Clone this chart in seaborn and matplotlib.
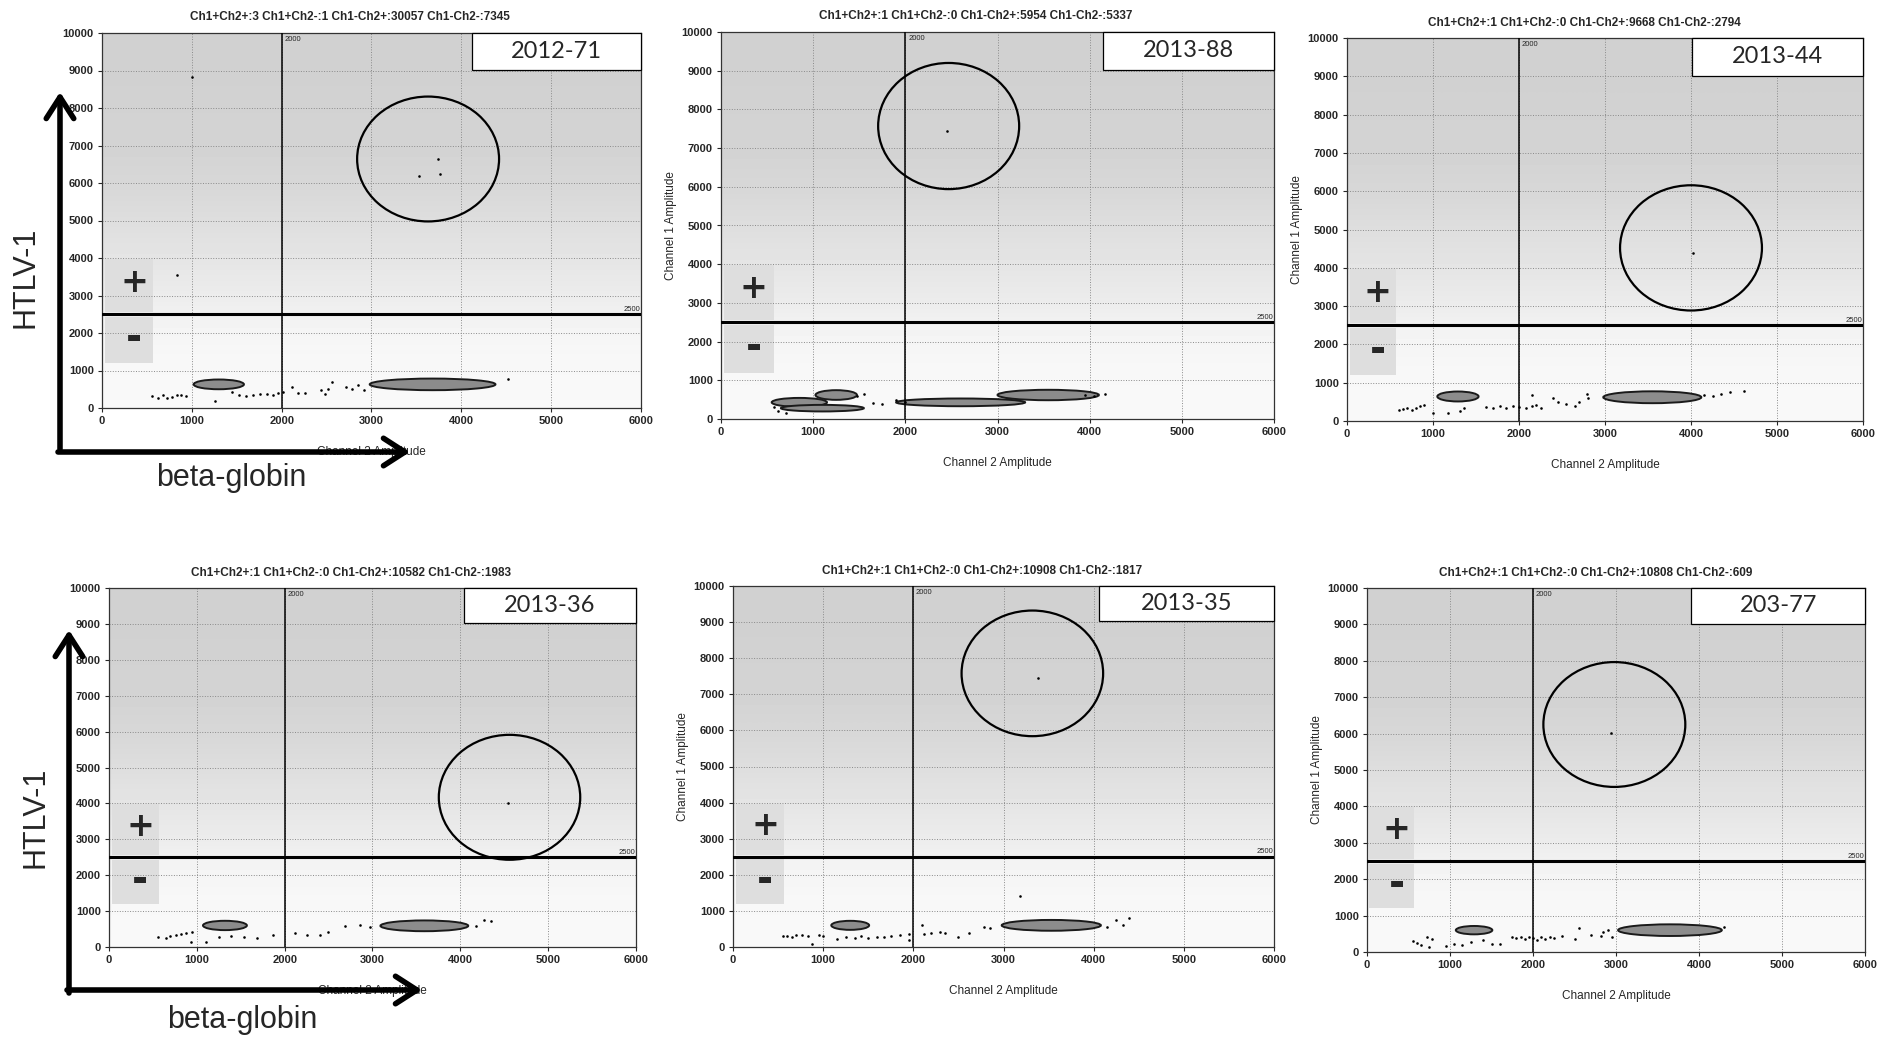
"""
ddPCR 2D amplitude plots, HTLV-1 (Ch1) vs beta-globin (Ch2), six samples
"""
import numpy as np
import pandas as pd
import seaborn as sns
import matplotlib.pyplot as plt
from matplotlib.patches import Ellipse, Rectangle, FancyArrowPatch

SAMPLES = ["2012-71", "2013-88", "2013-44", "2013-36", "2013-35", "203-77"]
# Ch1+Ch2+, Ch1+Ch2-, Ch1-Ch2+, Ch1-Ch2-
COUNTS = [(3, 1, 30057, 7345), (1, 0, 5954, 5337), (1, 0, 9668, 2794),
          (1, 0, 10582, 1983), (1, 0, 10908, 1817), (1, 0, 10808, 609)]

CH1_THRESHOLD = 2500
CH2_THRESHOLD = 2000

# circled positive droplets
CIRCLE_X = [3630, 2470, 4000, 4560, 3320, 2980]
CIRCLE_Y = [6640, 7570, 4520, 4170, 7580, 6250]
CIRCLE_W = [1580, 1530, 1650, 1610, 1570, 1710]
CIRCLE_H = [3330, 3260, 3270, 3480, 3480, 3430]
POS_X = [[3530, 3740, 3760], [2455], [4020], [4540], [3380], [2945]]
POS_Y = [[6200, 6640, 6240], [7450], [4380], [4020], [7460], [6020]]

# droplet clusters (centre, width, height)
CLUSTER_X = [[1300, 3680], [1250, 850, 1100, 2600, 3550], [1290, 3550],
             [1320, 3590], [1300, 3530], [1290, 3650]]
CLUSTER_Y = [[630, 630], [620, 430, 280, 430, 620], [640, 620],
             [600, 590], [600, 600], [600, 600]]
CLUSTER_W = [[560, 1400], [450, 600, 900, 1400, 1100], [480, 1140],
             [500, 1000], [420, 1100], [440, 1250]]
CLUSTER_H = [[260, 310], [250, 230, 170, 200, 270], [260, 310],
             [260, 300], [250, 300], [230, 320]]

# rain / scattered droplets
NEG_X = [
    [560, 620, 680, 720, 780, 830, 880, 940, 1260, 1450, 1520, 1600, 1680, 1760,
     1840, 1900, 1960, 2020, 2110, 2180, 2260, 2440, 2480, 2520, 2560, 2720,
     2780, 2850, 2920, 4520, 1000, 835],
    [580, 620, 700, 1480, 1550, 1650, 1750, 1900, 2000, 4170, 4050, 3950],
    [600, 650, 700, 750, 800, 850, 900, 1000, 1180, 1310, 1360, 1620, 1700, 1780,
     1850, 1930, 2000, 2080, 2150, 2200, 2250, 2150, 2400, 2450, 2550, 2650,
     2700, 2790, 2800, 4150, 4250, 4350, 4450, 4620],
    [560, 650, 700, 760, 820, 880, 950, 936, 1104, 1248, 1392, 1536, 1680, 1872,
     2112, 2256, 2400, 2496, 2688, 2856, 2976, 4176, 4272, 4344],
    [551, 600, 650, 700, 760, 830, 878, 950, 1000, 1150, 1250, 1350, 1420, 1500,
     1600, 1680, 1750, 1850, 1950, 1950, 2100, 2120, 2200, 2300, 2350, 2500,
     2620, 2780, 2850, 4150, 4250, 4320, 4390, 3180],
    [554, 600, 650, 720, 750, 780, 946, 1050, 1150, 1250, 1400, 1500, 1600, 1750,
     1800, 1850, 1900, 1950, 2000, 2050, 2100, 2150, 2200, 2250, 2350, 2500,
     2550, 2700, 2820, 2840, 2900, 2950, 4300],
]
NEG_Y = [
    [320, 260, 340, 280, 300, 360, 340, 330, 200, 420, 360, 330, 350, 370,
     380, 340, 400, 420, 560, 400, 390, 480, 380, 520, 700, 560, 500, 620,
     480, 780, 8840, 3550],
    [320, 200, 150, 600, 650, 420, 380, 500, 450, 650, 600, 620],
    [280, 310, 330, 300, 350, 380, 420, 200, 218, 270, 331, 370, 330, 380,
     350, 400, 360, 340, 380, 430, 340, 680, 590, 500, 450, 400, 500, 714,
     600, 680, 650, 700, 750, 790],
    [280, 260, 300, 330, 350, 380, 420, 139, 139, 269, 297, 269, 250, 343,
     389, 343, 343, 408, 593, 602, 556, 575, 760, 713],
    [296, 300, 280, 340, 330, 300, 92, 320, 300, 230, 280, 250, 300, 260,
     280, 270, 300, 320, 200, 350, 600, 360, 400, 420, 380, 280, 380, 560,
     520, 560, 740, 620, 800, 1405],
    [311, 250, 200, 400, 150, 350, 156, 220, 200, 280, 320, 230, 210, 400,
     380, 420, 360, 400, 380, 340, 400, 360, 420, 380, 440, 360, 660, 480,
     450, 560, 610, 400, 700],
]

# figure layout in pixels (left, top, right, bottom)
W, H = 1891, 1039
AXES_PX = [(102, 33, 641, 408), (721, 32, 1274, 419), (1347, 38, 1863, 421),
           (109, 588, 636, 947), (733, 586, 1274, 947), (1367, 588, 1865, 952)]
BOX_LEFT = [0.686, 0.69, 0.669, 0.674, 0.677, 0.651]
BG_SHADE = [0.975, 0.97, 0.955, 0.92, 0.895, 0.87, 0.845, 0.83, 0.825, 0.82, 0.82]

sns.set_theme(style="white")
plt.rcParams["font.family"] = ["Liberation Sans Narrow", "Liberation Sans", "DejaVu Sans"]

fig = plt.figure(figsize=(W / 100, H / 100), dpi=100)


def fx(x):
    return x / W


def fy(y):
    return 1 - y / H


def draw_panel(i):
    l, t, r, b = AXES_PX[i]
    ax = fig.add_axes([fx(l), fy(b), (r - l) / W, (b - t) / H])

    ax.imshow(np.array(BG_SHADE).reshape(-1, 1), cmap="gray", vmin=0, vmax=1,
              extent=(0, 6000, 0, 10000), origin="lower", aspect="auto",
              interpolation="bilinear", zorder=0)
    for y0, h0 in [(2560, 1410), (1200, 1230)]:
        ax.add_patch(Rectangle((30, y0), 540, h0, facecolor="#dedede",
                               edgecolor="none", zorder=0.2))

    for cx, cy, cw, ch in zip(CLUSTER_X[i], CLUSTER_Y[i], CLUSTER_W[i], CLUSTER_H[i]):
        ax.add_patch(Ellipse((cx, cy), cw, ch, facecolor="#8c8c8c",
                             edgecolor="#1a1a1a", lw=1.4, zorder=2))

    sns.scatterplot(x=NEG_X[i], y=NEG_Y[i], ax=ax, color="black", s=3.5,
                    linewidth=0, zorder=3)
    sns.scatterplot(x=POS_X[i], y=POS_Y[i], ax=ax, color="black", s=3.5,
                    linewidth=0, zorder=3)

    ax.axvline(CH2_THRESHOLD, color="black", lw=1.1, zorder=4)
    ax.axhline(CH1_THRESHOLD, color="black", lw=2.2, zorder=4)
    ax.text(CH2_THRESHOLD + 30, 9930, str(CH2_THRESHOLD), fontsize=5.5,
            va="top", ha="left", zorder=5)
    ax.text(5990, CH1_THRESHOLD + 40, str(CH1_THRESHOLD), fontsize=5.5,
            va="bottom", ha="right", zorder=5)

    ax.add_patch(Ellipse((CIRCLE_X[i], CIRCLE_Y[i]), CIRCLE_W[i], CIRCLE_H[i],
                         facecolor="none", edgecolor="black", lw=1.6, zorder=5))

    ax.text(356, 3360, "+", fontsize=24, fontweight="bold", ha="center",
            va="center", family="DejaVu Sans", zorder=5)
    ax.text(356, 1840, "-", fontsize=28, fontweight="bold", ha="center",
            va="center", family="DejaVu Sans", zorder=5)

    bl = BOX_LEFT[i]
    ax.add_patch(Rectangle((bl, 0.902), 1 - bl, 0.098, transform=ax.transAxes,
                           facecolor="white", edgecolor="black", lw=0.9,
                           zorder=6, clip_on=False))
    ax.text((bl + 1) / 2, 0.951, SAMPLES[i], transform=ax.transAxes,
            fontsize=17, family="Lato", ha="center", va="center", zorder=7)

    ax.set_xlim(0, 6000)
    ax.set_ylim(0, 10000)
    ax.set_xticks(range(0, 6001, 1000))
    ax.set_yticks(range(0, 10001, 1000))
    ax.grid(True, ls=":", color="#8a8a8a", lw=0.7)
    ax.tick_params(axis="both", labelsize=8, length=3, width=0.8, pad=3,
                   bottom=True, left=True)
    for lab in ax.get_xticklabels() + ax.get_yticklabels():
        lab.set_fontweight("bold")
    for sp in ax.spines.values():
        sp.set_color("#333333")
        sp.set_linewidth(0.9)

    a, bb, c, d = COUNTS[i]
    ax.set_title(f"Ch1+Ch2+:{a} Ch1+Ch2-:{bb} Ch1-Ch2+:{c} Ch1-Ch2-:{d}",
                 fontsize=8.5, fontweight="bold", x=0.46, pad=9)
    ax.set_xlabel("Channel 2 Amplitude", fontsize=8.5, labelpad=14)
    if i % 3 != 0:
        ax.set_ylabel("Channel 1 Amplitude", fontsize=8.5, labelpad=3,
                      family="Liberation Sans")
    return ax


for i in range(len(SAMPLES)):
    draw_panel(i)

# hand-drawn axis arrows and labels on the left column
arrow_style = "->,head_length=0.7,head_width=0.45"
for (vx, vy0, vy1), (hx0, hx1, hy), (tx, ty), (gx, gy) in [
    ((60, 449, 92), (58, 410, 452), (26, 277), (231, 478)),
    ((69, 993, 630), (67, 422, 990), (35, 817), (242, 1020)),
]:
    fig.add_artist(FancyArrowPatch((fx(vx), fy(vy0)), (fx(vx), fy(vy1)),
                                   transform=fig.transFigure, arrowstyle=arrow_style,
                                   mutation_scale=22, lw=4, color="black",
                                   shrinkA=0, shrinkB=0))
    fig.add_artist(FancyArrowPatch((fx(hx0), fy(hy)), (fx(hx1), fy(hy)),
                                   transform=fig.transFigure, arrowstyle=arrow_style,
                                   mutation_scale=22, lw=4, color="black",
                                   shrinkA=0, shrinkB=0))
    fig.text(fx(tx), fy(ty), "HTLV-1", rotation=90, fontsize=22,
             family="Liberation Sans", ha="center", va="center")
    fig.text(fx(gx), fy(gy), "beta-globin", fontsize=22,
             family="Liberation Sans", ha="center", va="center")

fig.savefig("out.png", dpi=100)
